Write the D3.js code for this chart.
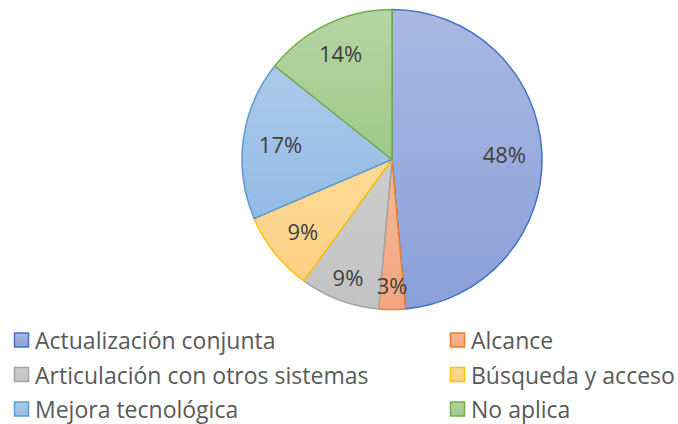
<!DOCTYPE html>
<html><head><meta charset="utf-8">
<script src="https://cdn.jsdelivr.net/npm/d3@7"></script>
<style>body{margin:0;background:#fff;} svg{display:block;}</style>
</head><body>
<svg id="chart" width="678" height="424"></svg>
<script>
const categories = ["Actualización conjunta","Alcance","Articulación con otros sistemas","Búsqueda y acceso","Mejora tecnológica","No aplica"];
const values = [17, 1, 3, 3, 6, 5];
const labels = ["48%","3%","9%","9%","17%","14%"];
const fillTop = ["#aab8e2","#f6b896","#cdcdcd","#fedb97","#adc9ea","#b5d5a4"];
const fillBottom = ["#8aa0d8","#f3a681","#c3c3c3","#fdd086","#93bbe5","#9fc98a"];
const strokes = ["#4472c4","#ed7d31","#a5a5a5","#ffc000","#5b9bd5","#70ad47"];

const svg = d3.select("#chart");
const cx = 392, cy = 159.5, R = 150;
const defs = svg.append("defs");
categories.forEach((c,i)=>{
  const g = defs.append("linearGradient").attr("id","g"+i).attr("x1",0).attr("y1",0).attr("x2",0).attr("y2",1);
  g.append("stop").attr("offset","0%").attr("stop-color",fillTop[i]);
  g.append("stop").attr("offset","100%").attr("stop-color",fillBottom[i]);
});
const pie = d3.pie().sort(null).value(d=>d);
const arcs = pie(values);
const arc = d3.arc().innerRadius(0).outerRadius(R);
const gp = svg.append("g").attr("transform",`translate(${cx},${cy})`);
gp.selectAll("path").data(arcs).join("path")
  .attr("d",arc).attr("fill",(d,i)=>`url(#g${i})`)
  .attr("stroke",(d,i)=>strokes[i]).attr("stroke-width",1.5).attr("stroke-linejoin","round");
gp.selectAll("text").data(arcs).join("text")
  .attr("transform",(d,i)=>{
    const a = (d.startAngle+d.endAngle)/2;
    const nearBottom = Math.abs(a - Math.PI) < 0.45;
    const frac = nearBottom ? 0.835 : (d.endAngle-d.startAngle) < 0.6 ? 0.76 : (i===5 ? 0.79 : 0.75);
    return `translate(${Math.sin(a)*R*frac},${-Math.cos(a)*R*frac})`;
  })
  .attr("text-anchor","middle").attr("dominant-baseline","central")
  .attr("font-family","'Open Sans', 'Liberation Sans', sans-serif").attr("font-size",22)
  .attr("fill","#404040").text((d,i)=>labels[i]);

const legend = svg.append("g");
categories.forEach((c,i)=>{
  const col = i%2, row = Math.floor(i/2);
  const x = col===0 ? 14 : 450, y = 340 + row*34.5;
  legend.append("rect").attr("x",x+0.5).attr("y",y-7).attr("width",14).attr("height",14)
    .attr("fill",`url(#g${i})`).attr("stroke",strokes[i]).attr("stroke-width",1.5);
  legend.append("text").attr("x",x+21).attr("y",y).attr("dominant-baseline","central")
    .attr("font-family","'Open Sans', 'Liberation Sans', sans-serif").attr("font-size",23)
    .attr("fill","#595959").text(c);
});
</script>
</body></html>
